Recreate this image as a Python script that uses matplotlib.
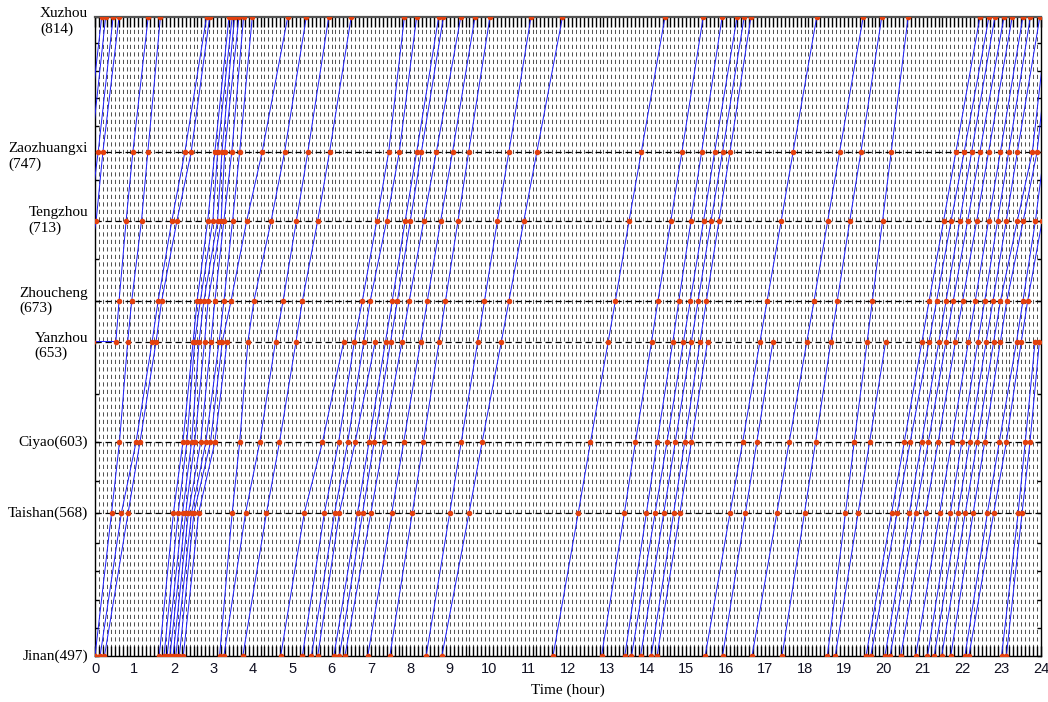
import numpy as np
import matplotlib.pyplot as plt

plt.rcParams['font.family'] = ['Liberation Serif', 'DejaVu Serif']

# stations (km) and labels
station_km = [497, 568, 603, 653, 673, 713, 747, 814]
station_labels = ['Jinan(497)', 'Taishan(568)', 'Ciyao(603)', 'Yanzhou\n(653)',
                  'Zhoucheng\n(673)', 'Tengzhou\n(713)', 'Zaozhuangxi\n(747)', 'Xuzhou\n(814)']
# label anchor: 'first' = first line on the tick, 'center' = block centred on tick
label_anchor = ['center', 'center', 'center', 'first', 'center', 'center', 'first', 'first']
# small intermediate ticks on the distance axis
minor_km = [511, 525, 539, 553, 584, 627, 694, 733, 760, 774, 787, 801]

nan = np.nan
# passing times (hour) of every train at each station
jinan = [0.00, 0.13, 0.24, 1.63, 1.75, 1.83, 1.90, 1.98, 2.05, 2.14, 2.24, 3.16, 3.27, 3.75,
         4.71, 5.26, 5.49, 5.65, 6.06, 6.20, 6.34, 6.92, 7.48, 8.40, 8.80, 11.62, 12.85, 13.44,
         13.61, 13.84, 14.11, 14.26, 15.48, 15.92, 16.67, 17.43, 18.58, 18.78, 19.56, 19.68,
         20.04, 20.17, 20.44, 20.82, 21.12, 21.29, 21.48, 21.71, 22.07, 22.17, 23.00, 23.12]
taishan = [0.42, 0.67, 0.84, 1.99, 2.11, 2.22, 2.30, 2.37, 2.45, 2.51, 2.63, 3.48, 3.82, 4.35,
           5.31, 5.82, 6.08, 6.20, 6.66, 6.79, 7.00, 7.53, 8.05, 9.00, 9.49, 12.26, 13.43, 13.99,
           14.21, 14.43, 14.68, 14.84, 16.11, 16.50, 17.30, 18.00, 19.04, 19.36, 20.21, 20.35,
           20.66, 20.82, 21.07, 21.43, 21.70, 21.89, 22.08, 22.28, 22.64, 22.80, 23.42, 23.52]
ciyao = [0.62, 1.04, 1.14, 2.23, 2.33, 2.45, 2.53, 2.68, 2.81, 2.93, 3.04, 3.67, 4.18, 4.68,
         5.77, 6.18, 6.41, 6.60, 6.95, 7.08, 7.32, 7.83, 8.33, 9.29, 9.82, 12.57, 13.71, 14.26,
         14.51, 14.72, 14.96, 15.13, 16.43, 16.79, 17.61, 18.28, 19.26, 19.65, 20.53, 20.68,
         20.97, 21.14, 21.39, 21.73, 21.99, 22.19, 22.38, 22.57, 22.94, 23.12, 23.60, 23.72]
yanzhou = [0.83, 1.45, 1.55, 2.49, 2.53, 2.64, 2.78, 2.94, 3.15, 3.23, 3.35, 3.88, 4.58, 5.10,
           6.31, 6.58, 6.82, 7.11, 7.37, 7.50, 7.79, 8.26, 8.73, 9.71, 10.31, 13.02, 14.12, 14.66,
           14.93, 15.13, 15.35, 15.54, 16.87, 17.20, 18.06, 18.67, 19.59, 20.06, 20.98, 21.16,
           21.41, 21.59, 21.83, 22.16, 22.40, 22.61, 22.80, 22.97, 23.38, 23.50, 23.85, 23.96]
zhoucheng = [0.93, 1.60, 1.69, 2.59, 2.67, 2.76, 2.87, 3.04, 3.27, 3.45, nan, 4.03, 4.77, 5.26,
             nan, 6.78, 6.98, nan, 7.54, 7.67, 7.97, 8.43, 8.89, 9.88, 10.50, 13.20, 14.28, 14.81,
             15.10, 15.30, 15.51, nan, 17.05, nan, 18.24, 18.83, 19.72, nan, 21.16, 21.35,
             21.59, 21.77, 22.01, 22.33, 22.57, 22.78, 22.97, 23.13, 23.54, 23.66, nan, 24.61]
tengzhou = [1.18, 1.95, 2.08, 2.86, 2.99, 3.11, 3.20, 3.27, 3.49, 3.85, nan, 4.47, 5.11, 5.65,
            nan, 7.15, 7.40, nan, 7.87, 8.00, 8.34, 8.77, 9.21, 10.21, 10.88, 13.55, 14.61, 15.12,
            15.44, 15.63, 15.83, nan, 17.41, nan, 18.59, 19.15, 19.98, nan, 21.53, 21.72,
            21.94, 22.14, 22.37, 22.67, 22.90, 23.12, 23.40, 23.55, 23.86, 24.03, nan, 24.79]
zaozhuangxi = [1.34, 2.28, 2.44, 3.04, 3.11, 3.22, 3.29, 3.47, 3.67, 4.24, nan, 4.81, 5.40, 5.95,
               nan, 7.45, 7.72, nan, 8.16, 8.28, 8.66, 9.07, 9.48, 10.50, 11.21, 13.86, 14.89, 15.39,
               15.72, 15.92, 16.11, nan, 17.71, nan, 18.89, 19.43, 20.20, nan, 21.84, 22.05,
               22.24, 22.45, 22.67, 22.97, 23.18, 23.40, 23.78, 23.90, 24.08, 24.20, nan, 24.96]
xuzhou = [1.66, 2.83, 2.91, 3.40, 3.48, 3.54, 3.65, 3.77, 3.99, 4.89, nan, 5.36, 5.93, 6.50,
          nan, 7.85, 8.16, nan, 8.72, 8.84, 9.28, 9.64, 10.02, 11.06, 11.86, 14.46, 15.43, 15.91,
          16.29, 16.47, 16.64, nan, 18.31, nan, 19.49, 19.96, 20.63, nan, 22.45, 22.68,
          22.83, 23.06, 23.27, 23.54, 23.73, 23.97, 24.17, 24.27, 24.46, 24.61, nan, 25.35]

# train held at Yanzhou over midnight
wait_train = [51]
wait_depart = [24.53]

line_color = '#1f1fff'
dot_color = '#e2400e'

fig = plt.figure(figsize=(10.48, 7.02), dpi=100)
ax = fig.add_axes([95 / 1048, 1 - 656 / 702, 946 / 1048, 639 / 702])

table = np.array([jinan, taishan, ciyao, yanzhou, zhoucheng, tengzhou, zaozhuangxi, xuzhou]).T
for i, row in enumerate(table):
    t, d = [], []
    for s, (time, km) in enumerate(zip(row, station_km)):
        if np.isnan(time):
            continue
        t.append(time)
        d.append(km)
        if s == 3 and i in wait_train:
            t.append(wait_depart[wait_train.index(i)])
            d.append(km)
    t = np.array(t)
    shifts = [0, -24] if t.max() > 24 else [0]
    for sh in shifts:
        ax.plot(t + sh, d, color=line_color, lw=0.7, zorder=3)
        ax.plot(t + sh, d, 'o', color=dot_color, ms=4, mew=0, zorder=4)

# dashed lines at stations
for km in station_km[1:-1]:
    ax.axhline(km, color='black', lw=0.9, ls=(0, (5, 3)), zorder=2)

ax.set_xlim(0, 24)
ax.set_ylim(497, 814)

xt = np.round(np.arange(0, 24.001, 0.1), 1)
ax.set_xticks(xt)
ax.set_xticklabels([str(int(v)) if abs(v - round(v)) < 1e-6 else '' for v in xt],
                   fontsize=10.5, family=['Liberation Sans', 'DejaVu Sans'], color='#111122')
ax.grid(axis='x', color='#333333', lw=0.6, ls=(0, (5, 4)), zorder=1)
ax.tick_params(axis='x', direction='in', length=7, width=1, top=True, bottom=True, pad=4)

ax.set_yticks(sorted(station_km + minor_km))
ax.set_yticklabels([])
ax.tick_params(axis='y', direction='in', length=3, width=1, left=True, right=True)

for km, lab, anc in zip(station_km, station_labels, label_anchor):
    if anc == 'first':
        ax.annotate(lab, xy=(0, km), xycoords=('axes fraction', 'data'), xytext=(-5, 7),
                    textcoords='offset points', ha='right', va='top', ma='left', fontsize=11)
    else:
        ax.annotate(lab, xy=(0, km), xycoords=('axes fraction', 'data'), xytext=(-5, 0),
                    textcoords='offset points', ha='right', va='center', ma='left', fontsize=11)

ax.set_xlabel('Time (hour)', fontsize=11, labelpad=6)

for side in ['left', 'bottom', 'right']:
    ax.spines[side].set_color('black')
    ax.spines[side].set_linewidth(1)
ax.spines['top'].set_color('#555555')
ax.spines['top'].set_linewidth(1.6)

plt.savefig('out.png', dpi=100)
